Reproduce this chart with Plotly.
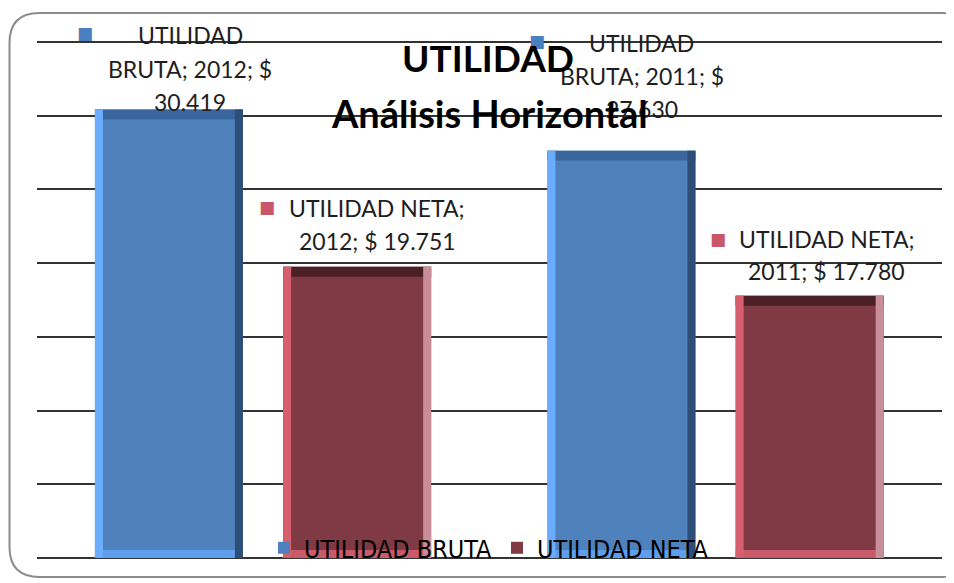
import plotly.graph_objects as go

# ---------------- data ----------------
years = ["2012", "2011"]
utilidad_bruta = [30419, 27630]
utilidad_neta = [19751, 17780]
series_names = ["UTILIDAD BRUTA", "UTILIDAD NETA"]
title_line1 = "UTILIDAD"
title_line2 = "Análisis Horizontal"

# ---------------- layout constants (page px) ----------------
PAGE_OFF = 8                   # default body margin of the html page
PLOT_L, PLOT_R, PLOT_T, PLOT_B = 37, 942, 39, 560
GRID_TOP_PX = 42               # where the 35 000 gridline sits
PLOT_W = PLOT_R - PLOT_L
PLOT_H = PLOT_B - PLOT_T
Y_TOP = 35000
Y_MAX = Y_TOP * PLOT_H / (PLOT_B - GRID_TOP_PX)   # headroom so the top gridline is drawn
CAT_PX = PLOT_W / len(years)
BAR_W = 148 / CAT_PX
OFFS = [-0.372, 0.044]
x_pos = list(range(len(years)))


def px_x(p):
    return p / CAT_PX


def px_y(p):
    return p * Y_MAX / PLOT_H


styles = [
    dict(main="#4f81bd", left="#6aadff", right="#2e4e7a", top="#3a669d", bottom="#5f9ded", key="#4a7fc0"),
    dict(main="#7f3a43", left="#d65f6e", right="#c98c99", top="#4a2026", bottom="#c85a69", key="#c9576a"),
]
LABEL_FONT = "Lato, Carlito, 'Open Sans', sans-serif"

fig = go.Figure()

for s, (name, vals) in enumerate(zip(series_names, [utilidad_bruta, utilidad_neta])):
    st = styles[s]
    off = OFFS[s]
    fig.add_trace(go.Bar(x=x_pos, y=vals, name=name, offset=off, width=BAR_W,
                         marker=dict(color=st["main"], line=dict(width=0)),
                         showlegend=True, hoverinfo="skip"))
    tb = px_y(10)
    fig.add_trace(go.Bar(x=x_pos, y=[tb] * len(vals), base=[v - tb for v in vals],
                         offset=off, width=BAR_W,
                         marker=dict(color=st["top"], line=dict(width=0)),
                         showlegend=False, hoverinfo="skip"))
    bb = px_y(8)
    fig.add_trace(go.Bar(x=x_pos, y=[bb] * len(vals), offset=off, width=BAR_W,
                         marker=dict(color=st["bottom"], line=dict(width=0)),
                         showlegend=False, hoverinfo="skip"))
    fig.add_trace(go.Bar(x=x_pos, y=vals, offset=off, width=px_x(8),
                         marker=dict(color=st["left"], line=dict(width=0)),
                         showlegend=False, hoverinfo="skip"))
    fig.add_trace(go.Bar(x=x_pos, y=vals, offset=off + BAR_W - px_x(8), width=px_x(8),
                         marker=dict(color=st["right"], line=dict(width=0)),
                         showlegend=False, hoverinfo="skip"))


# ---------------- data labels ----------------
def fmt(v):
    return f"{v:,}".replace(",", ".")


DOLLAR = "&#36;"
all_vals = [utilidad_bruta, utilidad_neta]
# (series, year idx, lines, x shift, line y shifts, key x shift, key y shift)
label_cfg = [
    (0, 0, ["UTILIDAD", f"BRUTA; {years[0]}; {DOLLAR}", fmt(utilidad_bruta[0])], -73, [75, 41, 8], -178, 77),
    (0, 1, ["UTILIDAD", f"BRUTA; {years[1]}; {DOLLAR}", fmt(utilidad_bruta[1])], -74, [108, 75, 42], -179, 110),
    (1, 0, ["UTILIDAD NETA;", f"{years[0]}; {DOLLAR} {fmt(utilidad_neta[0])}"], 114, [59, 26], 4, 60),
    (1, 1, ["UTILIDAD NETA;", f"{years[1]}; {DOLLAR} {fmt(utilidad_neta[1])}"], 111, [57, 25], 2, 57),
]
annotations = []
for s, yi, lines, xs, yss, kxs, kys in label_cfg:
    v = all_vals[s][yi]
    for line, ys in zip(lines, yss):
        annotations.append(dict(x=x_pos[yi], y=v, xref="x", yref="y", text=line,
                                showarrow=False, xanchor="center", yanchor="middle",
                                xshift=xs, yshift=ys, align="center",
                                font=dict(family=LABEL_FONT, size=23, color="#1e1e1e")))
    annotations.append(dict(x=x_pos[yi], y=v, xref="x", yref="y", text="■",
                            showarrow=False, xanchor="center", yanchor="middle",
                            xshift=kxs, yshift=kys,
                            font=dict(family="DejaVu Sans", size=17, color=styles[s]["key"])))


# paper conversions from page px
def pxx(p):
    return (p - PLOT_L) / PLOT_W


def pxy(p):
    return (PLOT_B - p) / PLOT_H


annotations.append(dict(x=pxx(488), y=pxy(58), xref="paper", yref="paper", text=f"<b>{title_line1}</b>",
                        showarrow=False, xanchor="center", yanchor="middle",
                        font=dict(family=LABEL_FONT, size=37, color="#000000")))
annotations.append(dict(x=pxx(489), y=pxy(113), xref="paper", yref="paper", text=f"<b>{title_line2}</b>",
                        showarrow=False, xanchor="center", yanchor="middle",
                        font=dict(family=LABEL_FONT, size=38, color="#000000")))

# rounded border
x0, x1, y0, y1, r = 9.5, 972, 13, 579, 30
path = (f"M {pxx(x0 + r)} {pxy(y0)} L {pxx(x1 - r)} {pxy(y0)} "
        f"Q {pxx(x1)} {pxy(y0)} {pxx(x1)} {pxy(y0 + r)} "
        f"L {pxx(x1)} {pxy(y1 - r)} Q {pxx(x1)} {pxy(y1)} {pxx(x1 - r)} {pxy(y1)} "
        f"L {pxx(x0 + r)} {pxy(y1)} Q {pxx(x0)} {pxy(y1)} {pxx(x0)} {pxy(y1 - r)} "
        f"L {pxx(x0)} {pxy(y0 + r)} Q {pxx(x0)} {pxy(y0)} {pxx(x0 + r)} {pxy(y0)} Z")

fig.update_layout(
    width=954 - PAGE_OFF, height=583 - PAGE_OFF,
    margin=dict(l=PLOT_L - PAGE_OFF, r=954 - PLOT_R, t=PLOT_T - PAGE_OFF, b=583 - PLOT_B),
    paper_bgcolor="white", plot_bgcolor="white",
    barmode="overlay",
    showlegend=True,
    legend=dict(orientation="h", x=pxx(489), y=pxy(550), xanchor="center", yanchor="middle",
                bgcolor="rgba(0,0,0,0)",
                font=dict(family="'Liberation Sans Narrow', 'DejaVu Sans Condensed', 'Roboto Condensed', sans-serif",
                          size=25, color="#000000"),
                itemwidth=30, tracegroupgap=0),
    xaxis=dict(range=[-0.5, len(years) - 0.5], showticklabels=False, showgrid=False,
               zeroline=False, showline=False, ticks=""),
    yaxis=dict(range=[0, Y_MAX], dtick=5000, tick0=0, showticklabels=False, showgrid=True,
               gridcolor="#333333", gridwidth=1.5, zeroline=True, zerolinecolor="#333333",
               zerolinewidth=1.5, showline=False, ticks=""),
    annotations=annotations,
    shapes=[dict(type="path", xref="paper", yref="paper", path=path,
                 line=dict(color="#8c8c8c", width=2), fillcolor="rgba(0,0,0,0)", layer="below")],
)

fig.write_html("out.html")
